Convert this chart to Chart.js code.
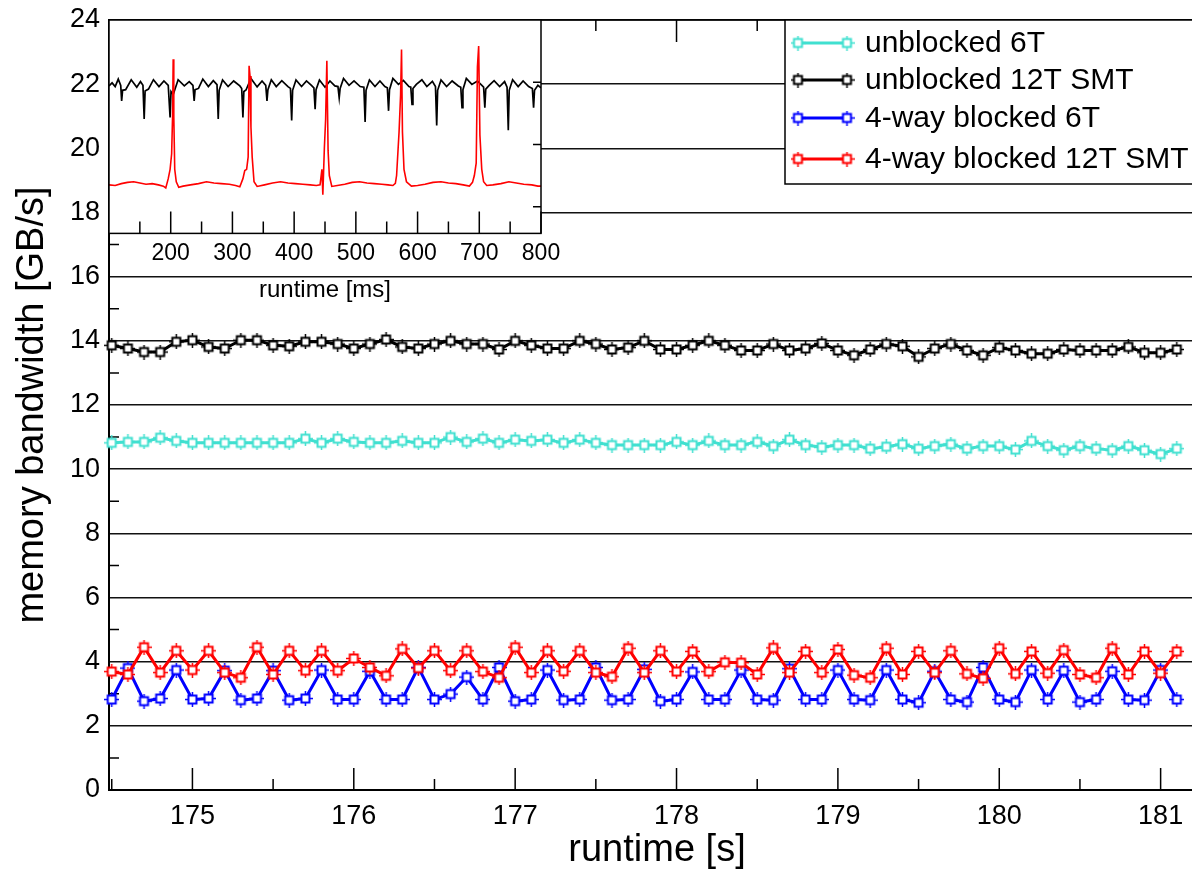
<!DOCTYPE html>
<html>
<head>
<meta charset="utf-8">
<script src="https://cdn.jsdelivr.net/npm/chart.js@4.4.1/dist/chart.umd.min.js"></script>
<style>
  html, body { margin: 0; padding: 0; background: #fff; overflow: hidden; }
  #wrap { position: relative; width: 1192px; height: 870px; overflow: hidden; background: #fff; }
  #main, #inset { position: absolute; left: 0; top: 0; }
</style>
</head>
<body>
<div id="wrap">
  <canvas id="main" width="1214" height="870"></canvas>
  <canvas id="inset" width="600" height="310"></canvas>
</div>
<script>
// sample times of the long run [s]
const runtimeS = [
  174.5, 174.6, 174.7, 174.8, 174.9,
  175.0, 175.1, 175.2, 175.3, 175.4, 175.5, 175.6, 175.7, 175.8, 175.9,
  176.0, 176.1, 176.2, 176.3, 176.4, 176.5, 176.6, 176.7, 176.8, 176.9,
  177.0, 177.1, 177.2, 177.3, 177.4, 177.5, 177.6, 177.7, 177.8, 177.9,
  178.0, 178.1, 178.2, 178.3, 178.4, 178.5, 178.6, 178.7, 178.8, 178.9,
  179.0, 179.1, 179.2, 179.3, 179.4, 179.5, 179.6, 179.7, 179.8, 179.9,
  180.0, 180.1, 180.2, 180.3, 180.4, 180.5, 180.6, 180.7, 180.8, 180.9,
  181.0, 181.1
];

// memory bandwidth [GB/s]
const unblocked6T = [
  10.82, 10.85, 10.85, 10.98, 10.88, 10.82, 10.82, 10.82, 10.82, 10.82, 10.82, 10.82, 10.95,
  10.82, 10.95, 10.85, 10.82, 10.82, 10.88, 10.82, 10.82, 11.00, 10.85, 10.95, 10.82,
  10.92, 10.88, 10.92, 10.82, 10.92, 10.82, 10.75, 10.75, 10.75, 10.75, 10.85, 10.75,
  10.88, 10.75, 10.75, 10.85, 10.72, 10.92, 10.75, 10.68, 10.75, 10.75, 10.64, 10.70,
  10.78, 10.64, 10.72, 10.78, 10.64, 10.72, 10.72, 10.61, 10.88, 10.72, 10.59, 10.72,
  10.64, 10.59, 10.72, 10.59, 10.47, 10.64
];
const unblocked12T = [
  13.86, 13.76, 13.65, 13.65, 13.97, 14.02, 13.81, 13.76, 14.02, 14.02, 13.86, 13.83, 13.97,
  13.97, 13.90, 13.76, 13.90, 14.04, 13.81, 13.76, 13.90, 14.00, 13.90, 13.90, 13.73,
  14.00, 13.86, 13.76, 13.76, 14.00, 13.90, 13.73, 13.79, 14.00, 13.73, 13.73, 13.86,
  14.00, 13.86, 13.70, 13.70, 13.90, 13.70, 13.76, 13.92, 13.70, 13.55, 13.73, 13.90,
  13.83, 13.50, 13.76, 13.90, 13.70, 13.55, 13.79, 13.70, 13.60, 13.60, 13.73, 13.70,
  13.70, 13.70, 13.81, 13.63, 13.63, 13.73
];
const blocked6T = [
  2.82, 3.80, 2.77, 2.85, 3.74, 2.82, 2.85, 3.72, 2.80, 2.85, 3.72, 2.80, 2.85, 3.74,
  2.82, 2.82, 3.70, 2.82, 2.82, 3.82, 2.82, 2.99, 3.52, 2.82, 3.82, 2.77, 2.82, 3.74,
  2.80, 2.82, 3.82, 2.80, 2.82,
  3.76, 2.77, 2.82, 3.68, 2.82, 2.82, 3.74, 2.82, 2.80, 3.78, 2.82, 2.82, 3.74, 2.82,
  2.80, 3.74, 2.82, 2.72, 3.70, 2.82, 2.74, 3.82, 2.82, 2.74, 3.74, 2.82, 3.72, 2.74,
  2.82, 3.70, 2.82, 2.80, 3.74, 2.82
];
const blocked12T = [
  3.69, 3.60, 4.45, 3.66, 4.34, 3.74, 4.34, 3.66, 3.50, 4.45, 3.60, 4.34, 3.72, 4.34,
  3.72, 4.10, 3.82, 3.56, 4.40, 3.80, 4.34, 3.72, 4.34, 3.69, 3.50, 4.45, 3.66, 4.34,
  3.70, 4.34, 3.66, 3.53, 4.42,
  3.66, 4.34, 3.69, 4.32, 3.69, 3.98, 3.97, 3.60, 4.43, 3.66, 4.32, 3.66, 4.38, 3.58,
  3.50, 4.42, 3.60, 4.32, 3.66, 4.34, 3.62, 3.48, 4.42, 3.62, 4.32, 3.64, 4.36, 3.60,
  3.50, 4.42, 3.60, 4.32, 3.64, 4.32
];

const seriesLabels = ['unblocked 6T', 'unblocked 12T SMT', '4-way blocked 6T', '4-way blocked 12T SMT'];

// axis ticks
const runtimeTicks = [175, 176, 177, 178, 179, 180, 181];
const runtimeMinor = [174.5, 175.5, 176.5, 177.5, 178.5, 179.5, 180.5, 181.5];
const bandwidthMinor = [1, 3, 5, 7, 9, 11, 13, 15, 17, 19, 21, 23];

// zoomed-in trace, [runtime ms, GB/s]
const insetUnblocked12T = [
  [100, 21.88], [105, 21.98], [110, 21.86], [115, 22.10], [119, 21.90],
  [120.5, 21.40], [122, 21.74], [127, 21.76], [136, 22.08], [145, 21.84], [151, 22.02], [155, 21.90],
  [157, 20.82], [158.5, 21.72], [164, 21.78], [172, 22.08], [181, 21.86], [189, 22.04], [196, 21.90],
  [199, 20.87], [200.5, 21.70], [204, 21.60], [212, 22.08], [222, 21.88], [230, 22.02], [236, 21.90],
  [238, 21.40], [239.5, 21.76], [245, 21.80], [252, 22.10], [261, 21.86], [269, 22.05], [275, 21.92],
  [277, 20.82], [278.5, 21.74], [284, 22.07], [293, 21.86], [302, 22.04], [312, 21.88], [315, 21.80],
  [317, 20.87], [318.5, 21.70], [322, 21.75], [330, 22.12], [340, 21.85], [348, 22.04], [354, 21.90],
  [356, 21.40], [357.5, 21.76], [363, 22.08], [371, 21.86], [380, 22.05], [390, 21.86], [394, 21.80],
  [396, 20.77], [397.5, 21.74], [403, 22.07], [412, 21.86], [420, 22.04], [428, 21.90], [432, 21.82],
  [434, 21.13], [435.5, 21.76], [441, 22.07], [450, 21.84], [458, 22.04], [466, 21.88], [471, 21.86],
  [473, 21.50], [474.5, 21.80], [480, 22.12], [489, 21.90], [497, 22.04], [507, 21.86], [513, 21.84],
  [515, 20.72], [516.5, 21.74], [522, 22.07], [531, 21.86], [539, 22.04], [547, 21.86], [551, 21.82],
  [553, 21.08], [554.5, 21.76], [560, 22.12], [569, 21.93], [577, 22.06], [586, 21.86], [589, 21.84],
  [591, 21.29], [592.5, 21.80], [598, 21.93], [607, 22.08], [615, 21.86], [624, 22.03], [629, 21.86],
  [631, 20.61], [632.5, 21.74], [638, 22.07], [647, 21.86], [656, 22.04], [666, 21.88], [670, 21.84],
  [672, 21.18], [673.5, 21.76], [679, 22.12], [688, 21.93], [697, 22.04], [705, 21.88], [707, 21.84],
  [709, 21.18], [710.5, 21.78], [716, 21.90], [724, 22.05], [733, 21.86], [741, 22.02], [745, 21.84],
  [747, 20.46], [748.5, 21.74], [754, 22.08], [763, 21.86], [771, 22.04], [780, 21.86], [786, 21.80],
  [788, 21.18], [789.5, 21.74], [795, 21.90], [800, 21.82]
];
const insetBlocked12T = [
  [100, 18.70], [110, 18.68], [120, 18.74], [130, 18.78], [140, 18.80], [150, 18.76], [160, 18.72],
  [170, 18.74], [180, 18.70], [188, 18.66], [192, 18.60], [196, 18.90], [199, 19.20], [201.5, 19.70],
  [203, 20.90], [204, 22.74], [205, 20.90], [206.5, 19.20], [209, 18.80], [213, 18.62], [220, 18.66],
  [232, 18.70], [245, 18.74], [258, 18.80], [270, 18.76], [282, 18.74], [295, 18.72], [305, 18.68],
  [312, 18.64], [317, 18.90], [320, 19.16], [323, 19.20], [325.5, 19.60], [327, 22.53], [328.5, 22.20],
  [330, 20.56], [332, 19.60], [335, 18.80], [340, 18.65], [352, 18.70], [365, 18.76], [378, 18.80],
  [390, 18.76], [402, 18.74], [414, 18.72], [426, 18.70], [436, 18.68], [442, 18.70], [445, 19.20],
  [446.5, 18.38], [449, 19.90], [451, 20.80], [453, 22.69], [455, 19.80], [457, 19.00], [461, 18.65],
  [470, 18.68], [482, 18.72], [494, 18.78], [506, 18.80], [518, 18.76], [530, 18.74], [542, 18.72],
  [552, 18.70], [560, 18.68], [564, 18.75], [566, 19.00], [570, 20.40], [572.5, 21.60], [574, 23.05],
  [575.5, 20.40], [578, 19.20], [582, 18.80], [590, 18.66], [600, 18.68], [612, 18.72], [625, 18.78],
  [638, 18.80], [650, 18.76], [662, 18.74], [674, 18.70], [684, 18.66], [689, 18.78], [692, 19.00],
  [695, 19.40], [697, 22.50], [699, 23.16], [701, 20.30], [704, 19.20], [707, 18.80], [712, 18.68],
  [722, 18.70], [735, 18.74], [748, 18.80], [760, 18.76], [772, 18.72], [785, 18.70], [795, 18.66],
  [800, 18.66]
];
const insetTicks = [200, 300, 400, 500, 600, 700, 800];
const insetMinor = [150, 250, 350, 450, 550, 650, 750];
const insetRightTicks = [18, 20, 22];

const FONT = '"Liberation Sans", Arial, Helvetica, sans-serif';
const legendRowY = [43, 80, 118, 159];

// open square with little stubs, like the xmgrace symbol
function marker(color) {
  const c = document.createElement('canvas');
  c.width = 15; c.height = 15;
  const g = c.getContext('2d');
  g.strokeStyle = color;
  g.lineWidth = 1.5;
  g.beginPath();
  g.moveTo(7.5, 0); g.lineTo(7.5, 3.5);
  g.moveTo(7.5, 11.5); g.lineTo(7.5, 15);
  g.moveTo(0, 7.5); g.lineTo(3.5, 7.5);
  g.moveTo(11.5, 7.5); g.lineTo(15, 7.5);
  g.stroke();
  g.fillStyle = '#fff';
  g.fillRect(3.5, 3.5, 8, 8);
  g.lineWidth = 2;
  g.strokeRect(3.5, 3.5, 8, 8);
  return c;
}

function series(label, values, color, order) {
  return {
    label: label,
    order: order,
    data: runtimeS.map((t, i) => ({ x: t, y: values[i] })),
    borderColor: color,
    backgroundColor: color,
    borderWidth: 3,
    pointStyle: marker(color),
    pointRadius: 6,
    tension: 0,
    clip: false
  };
}

// drop the label overhang padding so the plot box sits where the layout says
function noOverhang(s) {
  s.paddingTop = 0; s.paddingBottom = 0;
  s.paddingLeft = 0; s.paddingRight = 0;
}

const mainFrame = {
  id: 'mainFrame',
  beforeDatasetsDraw(chart) {
    const { ctx, chartArea: a, scales: { x, y } } = chart;
    ctx.save();
    ctx.strokeStyle = '#000';
    ctx.lineWidth = 1.5;
    ctx.beginPath();
    ctx.moveTo(a.left, a.top); ctx.lineTo(a.right, a.top);
    ctx.moveTo(a.right, a.top); ctx.lineTo(a.right, a.bottom);
    runtimeTicks.forEach(v => {
      const px = x.getPixelForValue(v);
      ctx.moveTo(px, a.bottom); ctx.lineTo(px, a.bottom - 22);
      ctx.moveTo(px, a.top); ctx.lineTo(px, a.top + 22);
    });
    runtimeMinor.forEach(v => {
      const px = x.getPixelForValue(v);
      if (px > a.right) return;
      ctx.moveTo(px, a.bottom); ctx.lineTo(px, a.bottom - 11);
      ctx.moveTo(px, a.top); ctx.lineTo(px, a.top + 11);
    });
    bandwidthMinor.forEach(v => {
      const py = y.getPixelForValue(v);
      ctx.moveTo(a.left, py); ctx.lineTo(a.left + 10, py);
      ctx.moveTo(a.right, py); ctx.lineTo(a.right - 10, py);
    });
    ctx.stroke();
    ctx.restore();
  }
};

const legendBox = {
  id: 'legendBox',
  afterDraw(chart) {
    const ctx = chart.ctx;
    ctx.save();
    ctx.fillStyle = '#fff';
    ctx.fillRect(785, 20, 424, 164);
    ctx.strokeStyle = '#000';
    ctx.lineWidth = 1.5;
    ctx.strokeRect(785, 20, 424, 164);
    ctx.font = '30px ' + FONT;
    ctx.textBaseline = 'middle';
    chart.data.datasets.forEach((ds, i) => {
      const yy = legendRowY[i];
      ctx.strokeStyle = ds.borderColor;
      ctx.lineWidth = 3;
      ctx.beginPath();
      ctx.moveTo(798, yy); ctx.lineTo(847, yy);
      ctx.stroke();
      ctx.drawImage(ds.pointStyle, 798 - 7.5, yy - 7.5);
      ctx.drawImage(ds.pointStyle, 847 - 7.5, yy - 7.5);
      ctx.fillStyle = '#000';
      ctx.fillText(ds.label, 865, yy + 1);
    });
    ctx.restore();
  }
};

new Chart(document.getElementById('main'), {
  type: 'line',
  data: {
    datasets: [
      series(seriesLabels[0], unblocked6T, '#40e0d0', 3),
      series(seriesLabels[1], unblocked12T, '#000000', 2),
      series(seriesLabels[2], blocked6T, '#0000ff', 1),
      series(seriesLabels[3], blocked12T, '#ff0000', 0)
    ]
  },
  options: {
    responsive: false,
    animation: false,
    layout: { padding: { top: 20, right: 2, left: 0, bottom: 0 } },
    plugins: { legend: { display: false }, tooltip: { enabled: false } },
    scales: {
      x: {
        type: 'linear',
        min: 174.483,
        max: 181.275,
        afterBuildTicks: s => { s.ticks = runtimeTicks.map(v => ({ value: v })); },
        afterFit: s => { s.height = 80; noOverhang(s); },
        grid: { display: false, drawTicks: false },
        border: { display: true, color: '#000', width: 2 },
        ticks: { color: '#000', font: { family: FONT, size: 27 }, padding: 10, maxRotation: 0, autoSkip: false },
        title: {
          display: true, text: 'runtime [s]', color: '#000',
          font: { family: FONT, size: 38, lineHeight: 1 }, padding: { top: 0, bottom: 0 }
        }
      },
      y: {
        min: 0,
        max: 24,
        afterFit: s => { s.width = 109; noOverhang(s); },
        grid: { color: '#111', lineWidth: 1.6, drawTicks: false },
        border: { display: true, color: '#000', width: 2 },
        ticks: { stepSize: 2, color: '#000', font: { family: FONT, size: 27 }, padding: 9 },
        title: {
          display: true, text: 'memory bandwidth [GB/s]', color: '#000',
          font: { family: FONT, size: 38, lineHeight: 1 }, padding: { top: 14, bottom: 0 }
        }
      }
    }
  },
  plugins: [mainFrame, legendBox]
});

const insetFrame = {
  id: 'insetFrame',
  beforeDatasetsDraw(chart) {
    const a = chart.chartArea;
    chart.ctx.save();
    chart.ctx.fillStyle = '#fff';
    chart.ctx.fillRect(a.left, a.top, a.right - a.left, a.bottom - a.top);
    chart.ctx.restore();
  },
  afterDatasetsDraw(chart) {
    const { ctx, chartArea: a, scales: { x, y } } = chart;
    ctx.save();
    ctx.strokeStyle = '#000';
    ctx.lineWidth = 1.5;
    ctx.beginPath();
    insetTicks.forEach(v => {
      const px = x.getPixelForValue(v);
      ctx.moveTo(px, a.bottom); ctx.lineTo(px, a.bottom - 22);
    });
    insetMinor.forEach(v => {
      const px = x.getPixelForValue(v);
      ctx.moveTo(px, a.bottom); ctx.lineTo(px, a.bottom - 12);
    });
    insetRightTicks.forEach(v => {
      const py = y.getPixelForValue(v);
      ctx.moveTo(a.right, py); ctx.lineTo(a.right - 8, py);
    });
    ctx.stroke();
    ctx.strokeRect(a.left, a.top, a.right - a.left, a.bottom - a.top);
    ctx.restore();
  }
};

new Chart(document.getElementById('inset'), {
  type: 'line',
  data: {
    datasets: [
      {
        label: seriesLabels[1], order: 1,
        data: insetUnblocked12T.map(p => ({ x: p[0], y: p[1] })),
        borderColor: '#000', borderWidth: 1.7, pointRadius: 0, tension: 0
      },
      {
        label: seriesLabels[3], order: 0,
        data: insetBlocked12T.map(p => ({ x: p[0], y: p[1] })),
        borderColor: '#ff0000', borderWidth: 1.6, pointRadius: 0, tension: 0
      }
    ]
  },
  options: {
    responsive: false,
    animation: false,
    layout: { padding: { left: 109, top: 20, right: 59, bottom: 8 } },
    plugins: { legend: { display: false }, tooltip: { enabled: false } },
    scales: {
      x: {
        type: 'linear',
        min: 100,
        max: 800,
        afterBuildTicks: s => { s.ticks = insetTicks.map(v => ({ value: v })); },
        afterFit: s => { noOverhang(s); },
        grid: { display: false, drawTicks: false },
        border: { display: false },
        ticks: { color: '#000', font: { family: FONT, size: 23 }, padding: 6, maxRotation: 0, autoSkip: false },
        title: {
          display: true, text: 'runtime [ms]', color: '#000',
          font: { family: FONT, size: 24, lineHeight: 1 }, padding: { top: 5, bottom: 0 }
        }
      },
      y: { display: false, min: 17.14, max: 24 }
    }
  },
  plugins: [insetFrame]
});
</script>
</body>
</html>
